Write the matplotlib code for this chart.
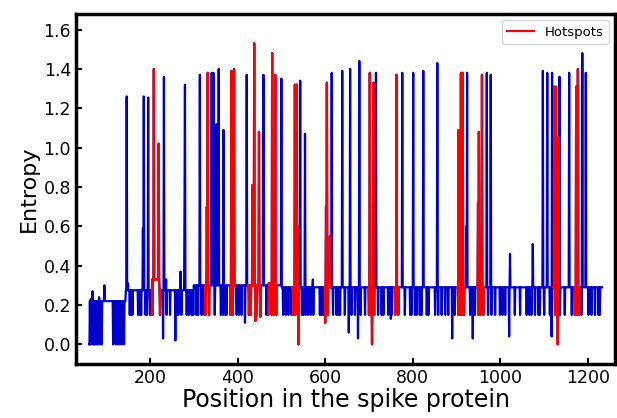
import numpy as np
import matplotlib
matplotlib.use("Agg")
import matplotlib.pyplot as plt

#
# DATA
#

# residue positions covered by the profile
first_pos = 61
last_pos = 1232

# noisy start of the profile, positions 61..99
early_vals = [0.0, 0.0, 0.22, 0.0, 0.23, 0.22, 0.0, 0.22, 0.27, 0.22,
              0.0, 0.22, 0.0, 0.22, 0.22, 0.0, 0.21, 0.22, 0.0, 0.22,
              0.22, 0.0, 0.22, 0.24, 0.22, 0.0, 0.22, 0.22, 0.22, 0.0,
              0.22, 0.22, 0.22, 0.22, 0.22, 0.30, 0.22, 0.22, 0.22]

# (start, end, level) of the flat background
base_levels = [(100, 145, 0.22), (145, 300, 0.275), (205, 222, 0.33),
               (300, 500, 0.30), (470, 490, 0.31), (500, 1233, 0.29)]

# shallow dips down to ~0.15
dip_pos = [154, 157, 160, 173, 177, 180, 190, 193, 200, 204, 206, 223, 238,
           246, 263, 265, 272, 284, 289, 295, 299, 306, 310,
           318, 324, 327, 335, 348, 352, 362, 367, 372, 375, 384, 389, 398,
           403, 409, 426, 430, 444, 466, 470, 478, 483, 489,
           504, 510, 516, 523, 527, 532, 547, 551, 556, 561, 567, 573, 588,
           592, 596, 606, 618, 626, 630, 634, 645, 660, 668, 681, 691, 700,
           705, 712, 721, 729, 733, 744, 752, 760, 767, 782, 794, 797, 805,
           809, 816, 820, 832, 836, 851, 858, 866, 874, 881, 896, 904, 908,
           912, 917, 931, 942, 950, 955, 961, 972, 980, 988, 999, 1005, 1011,
           1033, 1045, 1060, 1066, 1071, 1079, 1087, 1090, 1100, 1113, 1125,
           1129, 1136, 1147, 1163, 1170, 1175, 1180, 1185, 1201, 1208, 1216,
           1224, 1227]
dip_val = 0.15

# deeper dips (position, value)
deep_dips = [(116, 0.0), (122, 0.0), (127, 0.0), (131, 0.0), (136, 0.0),
             (141, 0.0), (230, 0.03), (258, 0.02), (417, 0.11), (441, 0.12),
             (452, 0.14), (539, 0.0), (600, 0.11), (654, 0.06), (675, 0.03),
             (707, 0.0), (750, 0.13), (890, 0.03), (937, 0.03), (1020, 0.04),
             (1117, 0.04), (1131, 0.0)]

# peaks (position, value)
peaks = [(147, 1.26), (150, 0.31), (184, 0.59), (186, 1.26), (196, 1.255),
         (209, 1.40), (220, 1.02), (232, 1.36), (237, 0.33), (270, 0.37),
         (279, 0.72), (280, 1.32), (314, 1.37), (330, 0.70), (332, 1.38),
         (341, 1.38), (345, 1.38), (352, 1.12), (357, 1.40), (368, 1.09),
         (386, 1.39), (392, 1.40), (421, 1.37), (434, 0.81), (438, 1.53),
         (449, 1.08), (459, 1.37), (479, 1.48), (486, 1.37), (500, 1.35),
         (531, 1.32), (535, 1.32), (537, 0.60), (543, 1.34), (554, 1.07),
         (572, 0.33), (602, 0.70), (604, 1.33), (611, 0.55), (615, 1.38),
         (639, 1.39), (657, 1.40), (678, 1.44), (702, 1.38), (710, 1.33),
         (716, 1.38), (763, 1.37), (776, 1.38), (801, 1.38), (824, 1.39),
         (856, 1.43), (905, 1.09), (910, 1.38), (914, 1.38), (922, 0.60),
         (924, 1.38), (949, 0.72), (951, 1.08), (958, 1.37), (969, 1.38),
         (978, 1.37), (1022, 0.46), (1074, 0.51), (1097, 1.39), (1107, 1.38),
         (1118, 1.38), (1123, 1.31), (1127, 1.31), (1133, 1.05), (1135, 1.36),
         (1157, 1.38), (1173, 1.31), (1177, 1.40), (1187, 1.48), (1195, 1.38)]

# hotspot ranges drawn in red
hotspots = [(204, 224), (326, 336), (383, 395), (424, 453), (470, 490),
            (525, 541), (599, 612), (699, 712), (758, 768), (902, 918),
            (947, 962), (1120, 1134), (1169, 1181)]

#
# BUILD THE PROFILE
#

pos = np.arange(first_pos, last_pos + 1)
ent = np.zeros(len(pos))
ent[:len(early_vals)] = early_vals
for a, b, lev in base_levels:
    ent[(pos >= a) & (pos < b)] = lev
for p in dip_pos:
    ent[pos == p] = dip_val
for p, v in deep_dips:
    ent[pos == p] = v
for p, v in peaks:
    ent[pos == p] = v

hot = np.zeros(len(pos), dtype=bool)
for a, b in hotspots:
    hot |= (pos >= a) & (pos <= b)
ent_hot = np.where(hot, ent, np.nan)

#
# PLOT
#

fig = plt.figure(figsize=(6.17, 4.18), dpi=100)
ax = fig.add_axes([0.123, 0.129, 0.874, 0.838])

ax.plot(pos, ent, color="#0000CC", lw=1.6)
ax.plot(pos, ent_hot, color="#FF0000", lw=1.6, label="Hotspots")

ax.set_xlim(31, 1262)
ax.set_ylim(-0.1, 1.68)
ax.set_xticks(np.arange(200, 1201, 200))
ax.set_yticks(np.arange(0, 1.61, 0.2))
ax.yaxis.set_major_formatter(matplotlib.ticker.FormatStrFormatter("%.1f"))

ax.set_xlabel("Position in the spike protein", fontsize=17, labelpad=1)
ax.set_ylabel("Entropy", fontsize=16, labelpad=3)
ax.tick_params(direction="in", length=4, width=1.5, labelsize=12.5)
for s in ax.spines.values():
    s.set_linewidth(2.5)

ax.legend(loc="upper right", fontsize=9.5)

fig.savefig("out.png", dpi=100)
